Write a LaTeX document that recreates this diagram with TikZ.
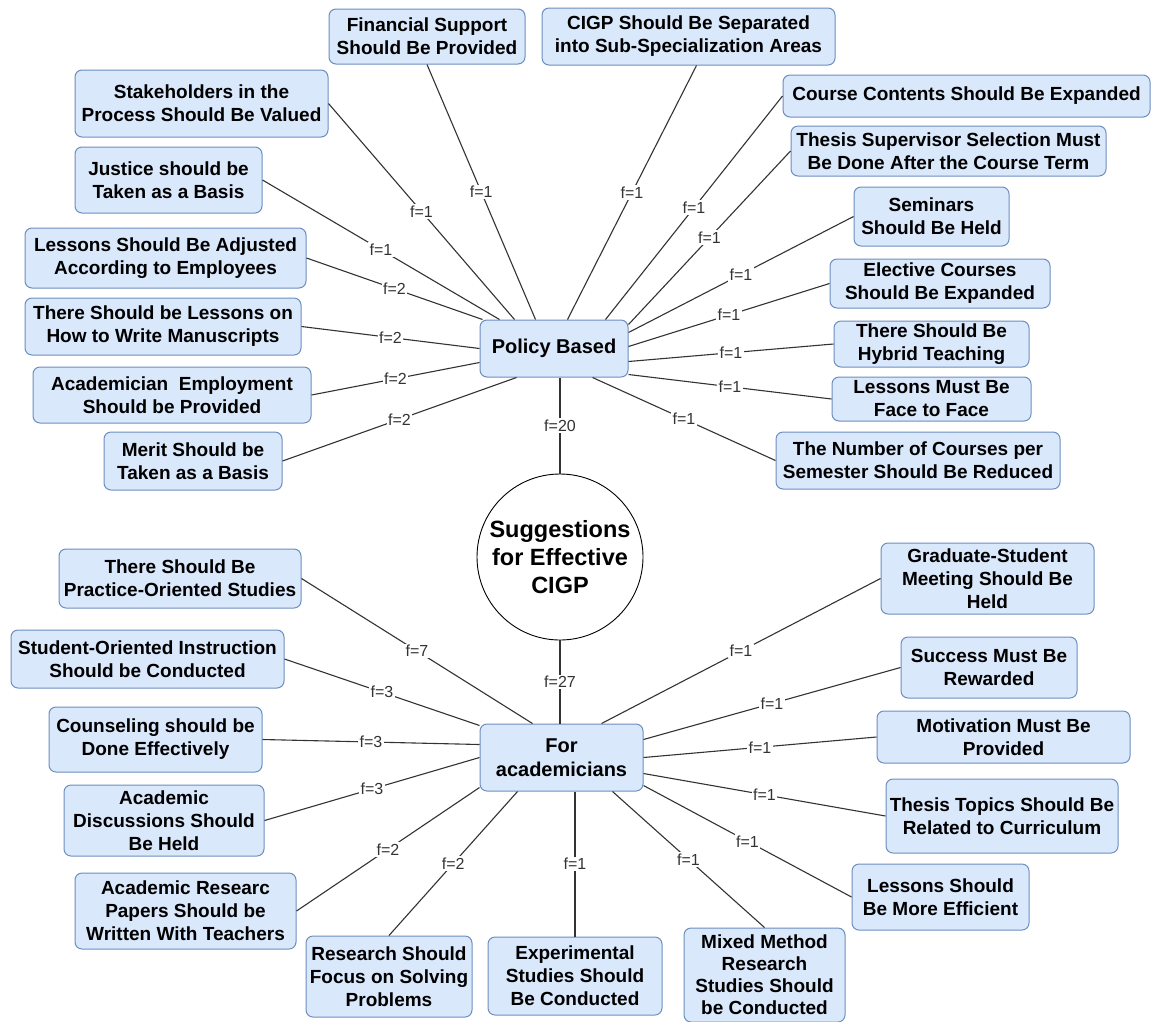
\documentclass[tikz,border=0pt]{standalone}
\usepackage{fontspec}
\setmainfont{Liberation Sans}
\usetikzlibrary{positioning}
\definecolor{bordc}{HTML}{6C8EBF}
\definecolor{fillc}{HTML}{DAE8FC}
\definecolor{edgec}{HTML}{333333}
\definecolor{lblc}{HTML}{333333}
\newcommand{\mylf}{\fontsize{19}{23}\selectfont\bfseries}
\newcommand{\mylfs}{\fontsize{19}{22}\selectfont\bfseries}
\newcommand{\myhf}{\fontsize{20}{24}\selectfont\bfseries}
\newcommand{\mycf}{\fontsize{23.5}{28}\selectfont\bfseries}
\newcommand{\mylbl}{\fontsize{16}{16}\selectfont}
\tikzset{
  leaf/.style={draw=bordc, fill=fillc, rounded corners=7pt, align=center, font=\mylf, inner sep=1pt, line width=1pt, text=black},
  hub/.style={leaf, font=\myhf},
  lbl/.style={fill=white, inner sep=1.5pt, font=\mylbl, text=lblc, midway},
  edge/.style={draw=edgec, line width=1.1pt},
}
\begin{document}
\begin{tikzpicture}[x=1pt, y=-1pt]
\clip (0,0) rectangle (1158,1021);
\fill[white] (0,0) rectangle (1158,1021);
% hubs
\node[hub, minimum width=148pt, minimum height=57pt] (pb) at (554,348.5) {Policy Based};
\node[hub, minimum width=163pt, minimum height=67pt] (fa) at (561.5,757.5) {For\\academicians};
\node[draw=black, line width=0.9pt, circle, fill=white, minimum size=166pt, inner sep=0pt, align=center, font=\mycf] (c) at (560,557) {Suggestions\\for Effective\\CIGP};
% top leaves
\node[leaf, minimum width=196pt, minimum height=55pt] (fin) at (427,36.5) {Financial Support\\Should Be Provided};
\node[leaf, minimum width=293pt, minimum height=57pt] (cigp) at (688.5,36.5) {CIGP Should Be Separated\\into Sub-Specialization Areas};
\node[leaf, minimum width=253pt, minimum height=67pt] (stake) at (201.5,103.5) {Stakeholders in the\\Process Should Be Valued};
\node[leaf, minimum width=367pt, minimum height=42pt] (cc) at (966.5,96) {Course Contents Should Be Expanded};
\node[leaf, minimum width=315pt, minimum height=50pt] (tss) at (948.5,151) {Thesis Supervisor Selection Must\\Be Done After the Course Term};
\node[leaf, minimum width=187pt, minimum height=66pt] (just) at (168.5,180) {Justice should be\\Taken as a Basis};
\node[leaf, minimum width=155pt, minimum height=59pt] (sem) at (931.5,216.5) {Seminars\\Should Be Held};
\node[leaf, minimum width=281pt, minimum height=60pt] (adj) at (165.5,258) {Lessons Should Be Adjusted\\According to Employees};
\node[leaf, minimum width=220pt, minimum height=49pt] (ele) at (940,283.5) {Elective Courses\\Should Be Expanded};
\node[leaf, minimum width=276pt, minimum height=57pt] (man) at (163,326.5) {There Should be Lessons on\\How to Write Manuscripts};
\node[leaf, minimum width=195pt, minimum height=46pt] (hyb) at (931.5,344) {There Should Be\\Hybrid Teaching};
\node[leaf, minimum width=278pt, minimum height=56pt] (emp) at (172,395) {Academician\ \ Employment\\Should be Provided};
\node[leaf, minimum width=199pt, minimum height=44pt] (face) at (931.5,399) {Lessons Must Be\\Face to Face};
\node[leaf, minimum width=178pt, minimum height=58pt] (merit) at (193,461) {Merit Should be\\Taken as a Basis};
\node[leaf, minimum width=284pt, minimum height=57pt] (num) at (918,460.5) {The Number of Courses per\\Semester Should Be Reduced};
% bottom leaves
\node[leaf, minimum width=242pt, minimum height=59pt] (prac) at (180,578.5) {There Should Be\\Practice-Oriented Studies};
\node[leaf, minimum width=273pt, minimum height=58pt] (stu) at (147.5,659) {Student-Oriented Instruction\\Should be Conducted};
\node[leaf, minimum width=213pt, minimum height=65pt] (couns) at (155.5,739.5) {Counseling should be\\Done Effectively};
\node[leaf, minimum width=200pt, minimum height=71pt] (disc) at (164,820.5) {Academic\\Discussions Should\\Be Held};
\node[leaf, minimum width=221pt, minimum height=76pt] (pap) at (185.5,911) {Academic Researc\\Papers Should be\\Written With Teachers};
\node[leaf, minimum width=166pt, minimum height=81pt] (solve) at (389,976.5) {Research Should\\Focus on Solving\\Problems};
\node[leaf, minimum width=174pt, minimum height=78pt] (exp) at (575,976) {Experimental\\Studies Should\\Be Conducted};
\node[leaf, font=\mylfs, minimum width=161pt, minimum height=94pt] (mix) at (764.5,975) {Mixed Method\\Research\\Studies Should\\be Conducted};
\node[leaf, minimum width=177pt, minimum height=66pt] (eff) at (940.5,897) {Lessons Should\\Be More Efficient};
\node[leaf, minimum width=232pt, minimum height=74pt] (topic) at (1002,816) {Thesis Topics Should Be\\Related to Curriculum};
\node[leaf, minimum width=253pt, minimum height=52pt] (mot) at (1003.5,737) {Motivation Must Be\\Provided};
\node[leaf, minimum width=176pt, minimum height=61pt] (succ) at (989,667.5) {Success Must Be\\Rewarded};
\node[leaf, minimum width=213pt, minimum height=71pt] (grad) at (987.5,578.5) {Graduate-Student\\Meeting Should Be\\Held};
% top edges
\draw[edge] ([xshift=3pt]pb.north west) -- node[lbl]{f=2} (adj.east);
\draw[edge] ([xshift=20pt]pb.north west) -- node[lbl]{f=1} (just.east);
\draw[edge] ([xshift=35pt]pb.north west) -- node[lbl]{f=1} (stake.east);
\draw[edge] ([xshift=56pt]pb.north west) -- node[lbl]{f=1} (fin.south);
\draw[edge] ([xshift=88pt]pb.north west) -- node[lbl]{f=1} ([xshift=8pt]cigp.south);
\draw[edge] ([xshift=126pt]pb.north west) -- node[lbl]{f=1} (cc.west);
\draw[edge] ([yshift=-5pt]pb.north east) -- node[lbl]{f=1} (tss.west);
\draw[edge] ([yshift=-13pt]pb.north east) -- node[lbl]{f=1} (sem.west);
\draw[edge] ([yshift=-27pt]pb.north east) -- node[lbl]{f=1} (ele.west);
\draw[edge] ([yshift=-42pt]pb.north east) -- node[lbl]{f=1} (hyb.west);
\draw[edge] ([yshift=-55pt]pb.north east) -- node[lbl]{f=1} (face.west);
\draw[edge] ([xshift=113pt]pb.south west) -- node[lbl]{f=1} (num.west);
\draw[edge] ([xshift=37pt]pb.south west) -- node[lbl]{f=2} (merit.east);
\draw[edge] ([yshift=-43pt]pb.north west) -- node[lbl]{f=2} (emp.east);
\draw[edge] (pb.west) -- node[lbl]{f=2} (man.east);
\draw[edge] (pb.south -| c.north) -- node[lbl]{f=20} (c.north);
% bottom edges
\draw[edge] (c.south) -- node[lbl]{f=27} (fa.north -| c.south);
\draw[edge] ([xshift=53pt]fa.north west) -- node[lbl]{f=7} (prac.east);
\draw[edge] ([yshift=-2pt]fa.north west) -- node[lbl]{f=3} (stu.east);
\draw[edge] ([yshift=-21pt]fa.north west) -- node[lbl]{f=3} (couns.east);
\draw[edge] (fa.west) -- node[lbl]{f=3} (disc.east);
\draw[edge] ([yshift=4pt]fa.south west) -- node[lbl]{f=2} (pap.east);
\draw[edge] ([xshift=38pt]fa.south west) -- node[lbl]{f=2} (solve.north);
\draw[edge] (fa.south -| exp.north) -- node[lbl]{f=1} (exp.north);
\draw[edge] ([xshift=133pt]fa.south west) -- node[lbl]{f=1} (mix.north);
\draw[edge] ([yshift=6pt]fa.south east) -- node[lbl]{f=1} (eff.west);
\draw[edge] ([yshift=18pt]fa.south east) -- node[lbl]{f=1} (topic.west);
\draw[edge] (fa.east) -- node[lbl]{f=1} (mot.west);
\draw[edge] ([yshift=-16pt]fa.north east) -- node[lbl]{f=1} (succ.west);
\draw[edge] ([xshift=122pt]fa.north west) -- node[lbl]{f=1} (grad.west);
\end{tikzpicture}
\end{document}
